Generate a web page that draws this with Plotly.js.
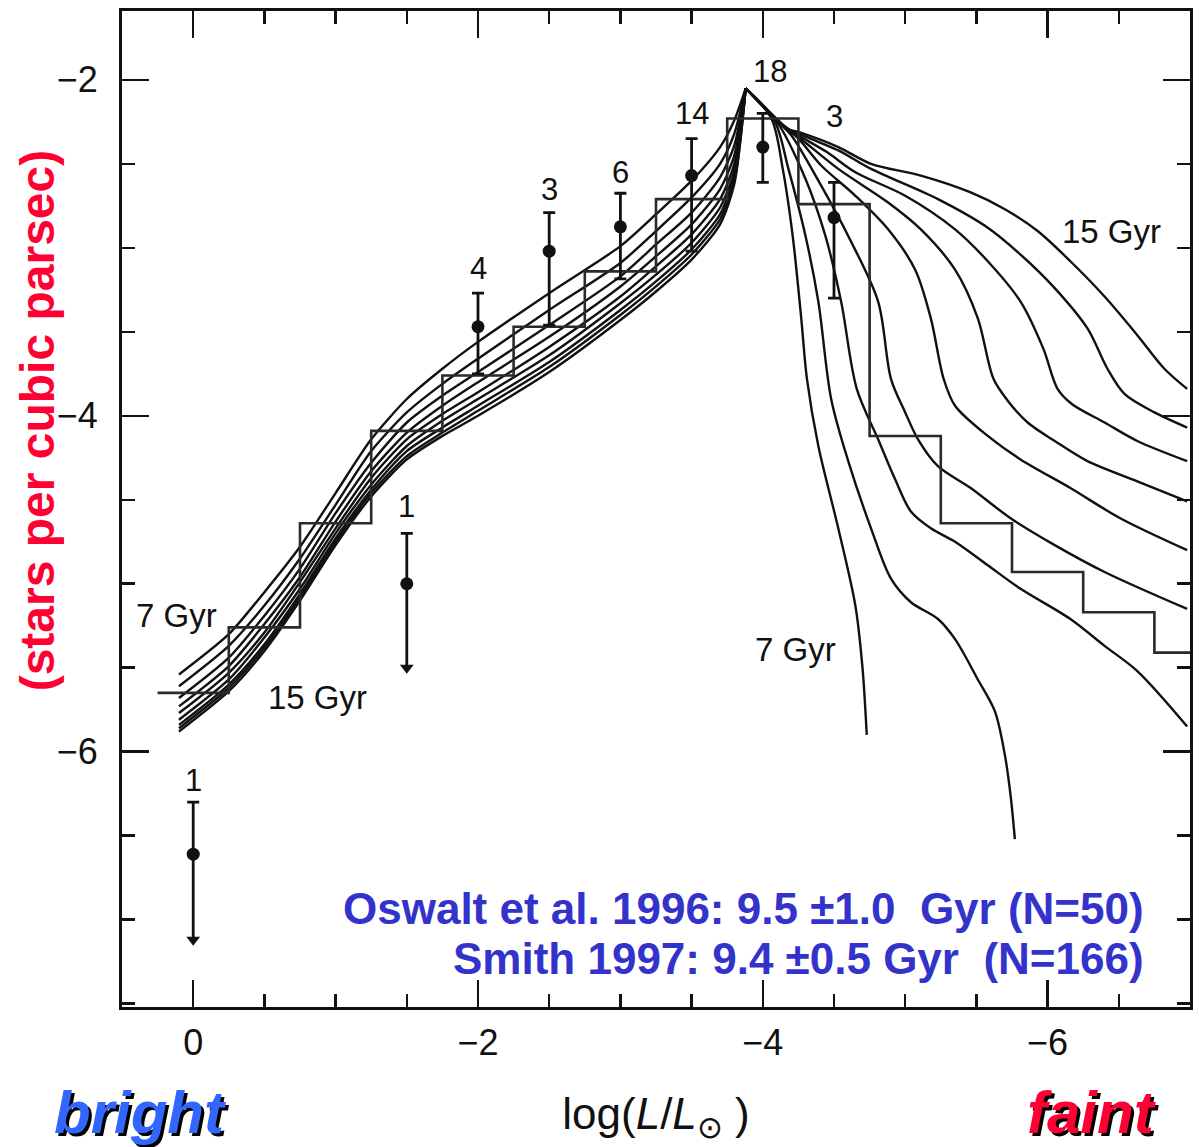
<!DOCTYPE html>
<html>
<head>
<meta charset="utf-8">
<script src="https://cdn.plot.ly/plotly-3.0.1.min.js"></script>
<style>html,body{margin:0;padding:0;background:#fff;}#chart{width:1199px;height:1147px;}</style>
</head>
<body>
<div id="chart"></div>
<script>
// ---------------- DATA ----------------
// Observed luminosity function (histogram), bin centres in log(L/Lsun)
const histLogL = [0, -0.5, -1.0, -1.5, -2.0, -2.5, -3.0, -3.5, -4.0, -4.5, -5.0, -5.5, -6.0, -6.5, -7.0];
const histLogPhi = [-5.65, -5.26, -4.64, -4.09, -3.76, -3.47, -3.14, -2.71, -2.23, -2.74, -4.12, -4.64, -4.93, -5.17, -5.41];
const histBinWidth = 0.5;

// Data points with error bars (log stars per cubic parsec)
const pointLogL = [0, -1.5, -2.0, -2.5, -3.0, -3.5, -4.0, -4.5];
const pointLogPhi = [-6.61, -5.00, -3.47, -3.02, -2.875, -2.57, -2.40, -2.82];
const pointErrPlus = [0.31, 0.30, 0.20, 0.23, 0.20, 0.22, 0.20, 0.21];
const pointErrMinus = [0.51, 0.50, 0.28, 0.44, 0.31, 0.45, 0.21, 0.48];
const pointIsUpperLimit = [true, true, false, false, false, false, false, false];
const pointCountN = ["1", "1", "4", "3", "6", "14", "18", "3"];
const countLabelLogL = [0, -1.5, -2.0, -2.5, -3.0, -3.5, -4.05, -4.5];
const countLabelLogPhi = [-6.17, -4.54, -3.125, -2.65, -2.55, -2.20, -1.95, -2.22];

// Model luminosity functions, ages 7..15 Gyr
const modelAgesGyr = [7, 8, 9, 10, 11, 12, 13, 14, 15];
// bright branch (shared luminosity grid, ends at the peak)
const brightLogL = [0.1, -0.25, -0.5, -0.75, -1.0, -1.25, -1.5, -1.75, -2.0, -2.5, -3.0, -3.25, -3.5, -3.7, -3.8, -3.88];
const brightPhi7  = [-5.54, -5.30, -5.05, -4.78, -4.46, -4.14, -3.90, -3.72, -3.56, -3.27, -2.99, -2.80, -2.60, -2.40, -2.24, -2.05];
const brightPhi8  = [-5.61, -5.37, -5.13, -4.85, -4.53, -4.21, -3.98, -3.81, -3.66, -3.37, -3.09, -2.90, -2.70, -2.50, -2.32, -2.05];
const brightPhi9  = [-5.68, -5.44, -5.19, -4.91, -4.58, -4.28, -4.04, -3.88, -3.74, -3.46, -3.17, -2.98, -2.79, -2.58, -2.39, -2.05];
const brightPhi10 = [-5.73, -5.49, -5.24, -4.96, -4.63, -4.33, -4.10, -3.94, -3.80, -3.53, -3.23, -3.05, -2.86, -2.65, -2.45, -2.05];
const brightPhi11 = [-5.77, -5.53, -5.29, -4.99, -4.67, -4.37, -4.14, -3.99, -3.86, -3.59, -3.29, -3.11, -2.92, -2.71, -2.50, -2.05];
const brightPhi12 = [-5.81, -5.57, -5.32, -5.03, -4.70, -4.41, -4.18, -4.03, -3.90, -3.64, -3.33, -3.16, -2.97, -2.76, -2.54, -2.05];
const brightPhi13 = [-5.84, -5.60, -5.36, -5.06, -4.73, -4.44, -4.21, -4.07, -3.94, -3.68, -3.37, -3.20, -3.01, -2.80, -2.57, -2.05];
const brightPhi14 = [-5.86, -5.62, -5.38, -5.08, -4.75, -4.46, -4.24, -4.10, -3.97, -3.71, -3.40, -3.23, -3.04, -2.83, -2.60, -2.05];
const brightPhi15 = [-5.88, -5.64, -5.40, -5.10, -4.77, -4.48, -4.26, -4.12, -4.00, -3.74, -3.43, -3.26, -3.07, -2.86, -2.62, -2.05];
// faint branch (from the peak)
const faintLogL7  = [-3.88, -4.06, -4.14, -4.21, -4.27, -4.31, -4.39, -4.53, -4.65, -4.70, -4.73];
const faintPhi7   = [-2.05, -2.23, -2.53, -2.93, -3.42, -3.78, -4.18, -4.67, -5.13, -5.50, -5.90];
const faintLogL8  = [-3.88, -4.08, -4.18, -4.30, -4.39, -4.48, -4.60, -4.76, -4.90, -5.04, -5.23, -5.35, -5.51, -5.63, -5.70, -5.74, -5.77];
const faintPhi8   = [-2.05, -2.24, -2.53, -2.93, -3.32, -3.90, -4.27, -4.67, -4.97, -5.11, -5.21, -5.33, -5.57, -5.76, -6.02, -6.26, -6.52];
const faintLogL9  = [-3.88, -4.10, -4.30, -4.44, -4.55, -4.66, -4.81, -4.93, -5.04, -5.18, -5.35, -5.58, -5.81, -6.16, -6.40, -6.63, -6.98];
const faintPhi9   = [-2.05, -2.25, -2.59, -2.93, -3.32, -3.84, -4.14, -4.38, -4.57, -4.67, -4.75, -4.89, -5.03, -5.21, -5.37, -5.52, -5.85];
const faintLogL10 = [-3.88, -4.12, -4.20, -4.41, -4.60, -4.81, -4.90, -5.00, -5.09, -5.23, -5.46, -5.74, -6.05, -6.40, -6.98];
const faintPhi10  = [-2.05, -2.26, -2.33, -2.63, -2.93, -3.32, -3.78, -3.98, -4.14, -4.30, -4.43, -4.61, -4.77, -4.93, -5.15];
const faintLogL11 = [-3.88, -4.14, -4.25, -4.41, -4.65, -4.88, -5.07, -5.18, -5.27, -5.35, -5.58, -5.81, -6.16, -6.51, -6.98];
const faintPhi11  = [-2.05, -2.27, -2.35, -2.51, -2.69, -2.89, -3.13, -3.42, -3.78, -3.94, -4.12, -4.26, -4.43, -4.61, -4.80];
const faintLogL12 = [-3.88, -4.15, -4.25, -4.53, -4.88, -5.11, -5.35, -5.51, -5.62, -5.72, -5.86, -6.05, -6.28, -6.63, -6.98];
const faintPhi12  = [-2.05, -2.28, -2.34, -2.53, -2.73, -2.89, -3.13, -3.42, -3.78, -3.91, -4.04, -4.15, -4.27, -4.39, -4.51];
const faintLogL13 = [-3.88, -4.16, -4.25, -4.45, -4.65, -5.00, -5.35, -5.58, -5.81, -5.97, -6.07, -6.17, -6.40, -6.63, -6.98];
const faintPhi13  = [-2.05, -2.28, -2.33, -2.43, -2.55, -2.69, -2.89, -3.08, -3.32, -3.60, -3.84, -3.93, -4.04, -4.15, -4.27];
const faintLogL14 = [-3.88, -4.17, -4.25, -4.53, -4.76, -5.23, -5.58, -5.81, -6.05, -6.28, -6.42, -6.54, -6.75, -6.98];
const faintPhi14  = [-2.05, -2.29, -2.32, -2.42, -2.53, -2.71, -2.88, -3.04, -3.24, -3.48, -3.72, -3.87, -3.98, -4.07];
const faintLogL15 = [-3.88, -4.17, -4.25, -4.53, -4.76, -5.11, -5.46, -5.70, -5.93, -6.16, -6.40, -6.63, -6.82, -6.98];
const faintPhi15  = [-2.05, -2.29, -2.31, -2.40, -2.50, -2.57, -2.67, -2.77, -2.90, -3.08, -3.29, -3.52, -3.72, -3.84];

// Curve labels
const ageLabelText = ["7 Gyr", "15 Gyr", "7 Gyr", "15 Gyr"];
const ageLabelLogL = [0.12, -0.87, -4.23, -6.45];
const ageLabelLogPhi = [-5.19, -5.68, -5.39, -2.90];

// Result text
const resultLines = ["Oswalt et al. 1996: 9.5 \u00b11.0&nbsp; Gyr (N=50)", "Smith 1997: 9.4 \u00b10.5 Gyr&nbsp; (N=166)"];

// ---------------- BUILD ----------------
const FONT = "Liberation Sans, Arial, Helvetica, sans-serif";
const INK = "#111";
const brightSets = [brightPhi7, brightPhi8, brightPhi9, brightPhi10, brightPhi11, brightPhi12, brightPhi13, brightPhi14, brightPhi15];
const faintX = [faintLogL7, faintLogL8, faintLogL9, faintLogL10, faintLogL11, faintLogL12, faintLogL13, faintLogL14, faintLogL15];
const faintY = [faintPhi7, faintPhi8, faintPhi9, faintPhi10, faintPhi11, faintPhi12, faintPhi13, faintPhi14, faintPhi15];

const traces = [];
modelAgesGyr.forEach((age, i) => {
  traces.push({x: brightLogL, y: brightSets[i], mode: 'lines', name: age + ' Gyr',
    line: {color: INK, width: 2.4, shape: 'spline', smoothing: 0.7}, hoverinfo: 'skip', showlegend: false});
  traces.push({x: faintX[i], y: faintY[i], mode: 'lines', name: age + ' Gyr',
    line: {color: INK, width: 2.4, shape: 'spline', smoothing: 0.9}, hoverinfo: 'skip', showlegend: false});
});

// histogram as steps from bin edges
const histEdgesX = histLogL.map(c => c + histBinWidth / 2).concat([histLogL[histLogL.length - 1] - histBinWidth / 2]);
const histStepY = histLogPhi.concat([histLogPhi[histLogPhi.length - 1]]);
traces.push({x: histEdgesX, y: histStepY, mode: 'lines', line: {color: '#2a2a2a', width: 2.6, shape: 'hv'},
  hoverinfo: 'skip', showlegend: false});

// points with error bars (limits: only the upper bar here, shaft + arrowhead below)
traces.push({
  x: pointLogL, y: pointLogPhi, mode: 'markers', showlegend: false,
  marker: {color: INK, size: 13},
  error_y: {type: 'data', symmetric: false, array: pointErrPlus,
    arrayminus: pointErrMinus.map((m, i) => pointIsUpperLimit[i] ? 0 : m),
    color: INK, thickness: 2.8, width: 6}
});
const limitShaftX = [], limitShaftY = [], limitTipX = [], limitTipY = [];
pointLogL.forEach((x, i) => {
  if (pointIsUpperLimit[i]) {
    limitShaftX.push(x, x, null);
    limitShaftY.push(pointLogPhi[i], pointLogPhi[i] - pointErrMinus[i], null);
    limitTipX.push(x);
    limitTipY.push(pointLogPhi[i] - pointErrMinus[i]);
  }
});
traces.push({x: limitShaftX, y: limitShaftY, mode: 'lines', line: {color: INK, width: 2.8},
  hoverinfo: 'skip', showlegend: false});
traces.push({x: limitTipX, y: limitTipY, mode: 'markers', marker: {symbol: 'triangle-down', size: 12, color: INK},
  hoverinfo: 'skip', showlegend: false});

const annotations = [];
pointCountN.forEach((t, i) => {
  annotations.push({x: countLabelLogL[i], y: countLabelLogPhi[i], xref: 'x', yref: 'y', text: t,
    showarrow: false, font: {family: FONT, size: 31, color: INK}, xanchor: 'center', yanchor: 'middle'});
});
ageLabelText.forEach((t, i) => {
  annotations.push({x: ageLabelLogL[i], y: ageLabelLogPhi[i], xref: 'x', yref: 'y', text: t,
    showarrow: false, font: {family: FONT, size: 33, color: INK}, xanchor: 'center', yanchor: 'middle'});
});
resultLines.forEach((t, i) => {
  annotations.push({x: 0.959, y: 0.099 - i * 0.0502, xref: 'paper', yref: 'paper', text: t,
    showarrow: false, xanchor: 'right', yanchor: 'middle',
    font: {family: FONT, size: 44, color: '#3333CC', weight: 'bold'}});
});
// y-axis title (placed as rotated text so that it sits where the reference has it)
annotations.push({x: -0.0796, y: 0.589, xref: 'paper', yref: 'paper', text: '(stars per cubic parsec)',
  textangle: -90, showarrow: false, xanchor: 'center', yanchor: 'middle',
  font: {family: FONT, size: 48, color: '#FF0033', weight: 'bold'}});
annotations.push({x: 0.017, y: -0.106, xref: 'paper', yref: 'paper', text: 'bright', showarrow: false,
  xanchor: 'center', yanchor: 'middle',
  font: {family: FONT, size: 60, color: '#3366FF', weight: 'bold', style: 'italic', shadow: '3px 3px 0px #000'}});
annotations.push({x: 0.908, y: -0.106, xref: 'paper', yref: 'paper', text: 'faint', showarrow: false,
  xanchor: 'center', yanchor: 'middle',
  font: {family: FONT, size: 60, color: '#FF0033', weight: 'bold', style: 'italic', shadow: '3px 3px 0px #000'}});

const axisCommon = {
  showgrid: false, zeroline: false, showline: true, linecolor: INK, linewidth: 3,
  mirror: 'ticks', ticks: 'inside', ticklen: 27, tickwidth: 2.5, tickcolor: INK,
  tickfont: {family: FONT, size: 36, color: INK}, automargin: false,
  dtick: 2, tick0: 0,
  minor: {dtick: 0.5, tick0: 0, ticks: 'inside', ticklen: 13, tickwidth: 2.5, tickcolor: INK, showgrid: false}
};

const layout = {
  width: 1199, height: 1147,
  margin: {l: 122, r: 9, t: 11, b: 140},
  paper_bgcolor: '#fff', plot_bgcolor: '#fff',
  showlegend: false,
  xaxis: Object.assign({}, axisCommon, {
    range: [0.5, -7.0], ticklabelstandoff: 2,
    title: {text: 'log(<i>L</i>/<i>L</i><sub>\u2299</sub> )', font: {family: FONT, size: 44, color: INK}, standoff: 36}
  }),
  yaxis: Object.assign({}, axisCommon, {
    range: [-7.52, -1.59], ticklabelstandoff: 14
  }),
  annotations: annotations
};

Plotly.newPlot('chart', traces, layout, {staticPlot: true, displayModeBar: false});
</script>
</body>
</html>
